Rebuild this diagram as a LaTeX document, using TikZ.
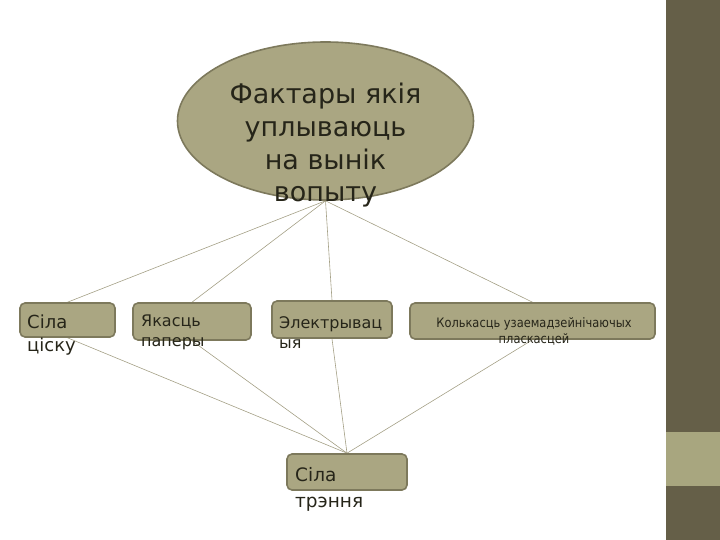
\documentclass[tikz,border=0pt]{standalone}
\usepackage{fontspec}
\setmainfont{DejaVu Sans}
\newfontfamily\narrowfont[FakeStretch=0.88]{DejaVu Sans}
\usetikzlibrary{shapes.geometric, backgrounds}
\definecolor{OliveDark}{HTML}{655F48}
\definecolor{OliveLight}{HTML}{A8A67F}
\definecolor{BoxFill}{HTML}{AAA682}
\definecolor{BoxEdge}{HTML}{7D795C}
\definecolor{LinkGray}{HTML}{A4A086}
\definecolor{InkDark}{HTML}{262519}

\begin{document}
\begin{tikzpicture}[x=1pt, y=-1pt,
    factor/.style={ellipse, draw=BoxEdge, line width=1.6pt, fill=BoxFill, inner sep=0pt},
    item/.style={rectangle, rounded corners=5pt, draw=BoxEdge, line width=1.6pt, fill=BoxFill, inner sep=0pt},
    caption/.style={inner sep=0pt, text=InkDark, align=left},
    link/.style={draw=LinkGray, line width=0.6pt}]
        \useasboundingbox (0,0) rectangle (720,540);
        % side bar
        \fill[OliveDark] (666,0) rectangle (720,540);
        \fill[OliveLight] (666,432) rectangle (720,486);

        \node[factor, minimum width=296pt, minimum height=158pt] (f) at (325.5,121) {};
        \node[caption, anchor=north, align=center, font=\fontsize{27}{32.7}\selectfont] (ft) at (325.5,83) {Фактары якія\\уплываюць\\на вынік\\вопыту};

        \node[item, minimum width=95pt, minimum height=34pt] (b1) at (67.5,320) {};
        \node[item, minimum width=118pt, minimum height=37pt] (b2) at (192,321.5) {};
        \node[item, minimum width=120pt, minimum height=37pt] (b3) at (332,319.5) {};
        \node[item, minimum width=245pt, minimum height=36pt] (b4) at (532.5,321) {};
        \node[item, minimum width=120pt, minimum height=36pt] (b5) at (347,472) {};

        \node[caption, anchor=north west, font=\fontsize{18}{23}\selectfont] (t1) at (27,315) {Сіла\\ціску};
        \node[caption, anchor=north west, font=\fontsize{16}{20}\selectfont] (t2) at (141,315) {Якасць\\паперы};
        \node[caption, anchor=north west, font=\fontsize{16}{20}\selectfont] (t3) at (279,316) {Электрывац\\ыя};
        \node[caption, anchor=north, align=center, font=\narrowfont\fontsize{13}{16}\selectfont] (t4) at (534,317.5) {Колькасць узаемадзейнічаючых\\пласкасцей};
        \node[caption, anchor=north west, font=\fontsize{18.5}{26}\selectfont] (t5) at (295,467) {Сіла\\трэння};

        \begin{pgfonlayer}{background}
            \foreach \b in {b1,b2,b3,b4} {
                \draw[link] (f.south) -- (\b.north);
                \draw[link] (\b.south) -- (b5.north);
            }
        \end{pgfonlayer}
    \end{tikzpicture}
\end{document}
